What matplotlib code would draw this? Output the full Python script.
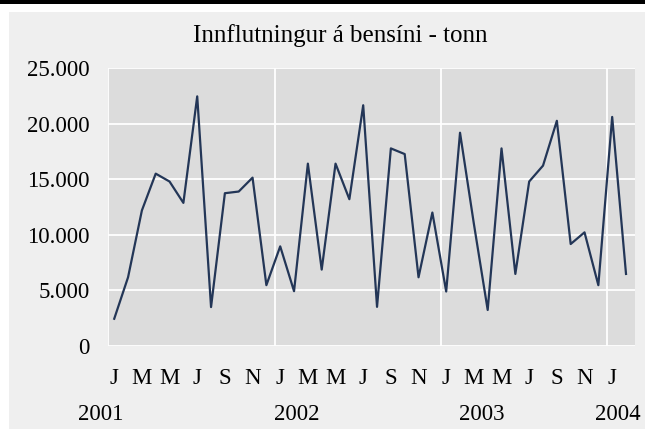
import matplotlib.pyplot as plt
import matplotlib.transforms as mtransforms

# monthly imports, Jan 2001 - Feb 2004 (tonnes)
values = [2450, 6180, 12190, 15500, 14790, 12870, 22450, 3500, 13740, 13890, 15140, 5470,
          8960, 4930, 16400, 6870, 16400, 13200, 21650, 3520, 17770, 17260, 6180, 12000,
          4900, 19180, 11000, 3240, 17770, 6480, 14790, 16220, 20250, 9170, 10220, 5470,
          20600, 6480]
month_letters = ['J', 'M', 'M', 'J', 'S', 'N']
years = ['2001', '2002', '2003', '2004']
year_label_pos = [-0.95, 13.2, 26.6, 36.4]
yticks = [0, 5000, 10000, 15000, 20000, 25000]

plt.rcParams['font.family'] = ['Liberation Serif', 'DejaVu Serif']

fig = plt.figure(figsize=(6.45, 4.29), dpi=100)
fig.patch.set_facecolor('white')
# grey panel and black strip at top
fig.patches.append(plt.Rectangle((9 / 645, 0), 1, 1 - 12 / 429, transform=fig.transFigure,
                                 facecolor='#efefef', edgecolor='none', zorder=-10))
fig.patches.append(plt.Rectangle((0, 1 - 3.5 / 429), 1, 3.5 / 429, transform=fig.transFigure,
                                 facecolor='black', edgecolor='none', zorder=-10))

ax = fig.add_axes([108 / 645, 1 - 346 / 429, (635 - 108) / 645, (346 - 68) / 429])
ax.set_facecolor('#dcdcdc')
x = list(range(len(values)))
ax.plot(x, values, color='#233657', lw=1.6, zorder=3)

ax.set_xlim(-0.45, 37.65)
ax.set_ylim(0, 25000)
for t in yticks:
    ax.axhline(t, color='white', lw=1.3, zorder=1)
for xv in [-0.45, 11.6, 23.6, 35.6]:
    ax.axvline(xv, color='white', lw=1.3, zorder=1)

ax.set_yticks(yticks)
ax.set_yticklabels([f'{t:,}'.replace(',', '.') for t in yticks])
xt = [i for i in range(len(values)) if i % 2 == 0]
ax.set_xticks(xt)
ax.set_xticklabels([month_letters[(i % 12) // 2] for i in xt])
ax.tick_params(axis='both', length=0, labelsize=16.5, colors='black')
ax.tick_params(axis='y', pad=13)
ax.tick_params(axis='x', pad=16)
for s in ax.spines.values():
    s.set_visible(False)

trans = mtransforms.blended_transform_factory(ax.transData, fig.transFigure)
for yr, xp in zip(years, year_label_pos):
    ax.text(xp, 1 - 420 / 429, yr, transform=trans, ha='center', va='baseline', fontsize=16.5)

fig.text(0.527, 1 - 42 / 429, 'Innflutningur á bensíni - tonn', ha='center', va='baseline',
         fontsize=18)

fig.savefig('out.png', dpi=100, facecolor=fig.get_facecolor())
